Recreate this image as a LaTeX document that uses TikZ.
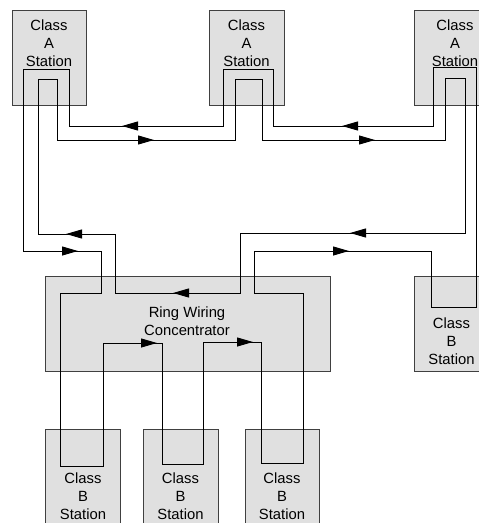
\documentclass[tikz,border=0pt]{standalone}
\usepackage{fontspec}
\setmainfont{Liberation Sans}
\usetikzlibrary{arrows.meta}
\definecolor{boxfill}{HTML}{E0E0E0}
\definecolor{boxline}{HTML}{404040}
\tikzset{
  stbox/.style={draw=boxline, fill=boxfill, line width=1pt, inner sep=0pt, anchor=north west},
  lbl/.style={align=center, inner sep=0pt, font=\fontsize{14.8}{18}\selectfont},
  wire/.style={draw=black, line width=1pt, line join=miter},
  arr/.style={-{Triangle[length=16pt,width=9pt]}, line width=1pt}
}
\begin{document}
\begin{tikzpicture}[x=1pt,y=-1pt]
\useasboundingbox (0,0) rectangle (479,523);
\clip (0,0) rectangle (479,523);
% boxes
\node[stbox, minimum width=74pt, minimum height=95pt] (a1) at (12,10) {};
\node[stbox, minimum width=75pt, minimum height=95pt] (a2) at (209,10) {};
\node[stbox, minimum width=82pt, minimum height=95pt] (a3) at (414,10) {};
\node[stbox, minimum width=285pt, minimum height=95pt] (rc) at (45,276) {};
\node[stbox, minimum width=76pt, minimum height=95pt] (b4) at (414,276) {};
\node[stbox, minimum width=75pt, minimum height=110pt] (b1) at (45,429) {};
\node[stbox, minimum width=75pt, minimum height=110pt] (b2) at (143,429) {};
\node[stbox, minimum width=74pt, minimum height=110pt] (b3) at (245,429) {};
% labels
\node[lbl] (a1t) at (49,43) {Class\\A\\Station};
\node[lbl] (a2t) at (246.5,43) {Class\\A\\Station};
\node[lbl] (a3t) at (455,43) {Class\\A\\Station};
\node[lbl] (rct) at (187,321.5) {Ring Wiring\\Concentrator};
\node[lbl] (b4t) at (451.5,341.5) {Class\\B\\Station};
\node[lbl] (b1t) at (83,496) {Class\\B\\Station};
\node[lbl] (b2t) at (180.5,496) {Class\\B\\Station};
\node[lbl] (b3t) at (282,496) {Class\\B\\Station};
% inner ring
\draw[wire] (38,234) -- (38,79) -- (57,79) -- (57,140) -- (235,140) -- (235,79)
  -- (262,79) -- (262,140) -- (445,140) -- (445,78) -- (465,78) -- (465,233)
  -- (240,233) -- (240,293) -- (115,293) -- (115,234) -- cycle;
% outer ring
\draw[wire] (23,69) -- (69,69) -- (69,126) -- (223,126) -- (223,69) -- (273,69)
  -- (273,126) -- (433,126) -- (433,67) -- (476,67) -- (476,307) -- (431,307)
  -- (431,251) -- (254,251) -- (254,293) -- (303,293) -- (303,463) -- (261,463)
  -- (261,342) -- (203,342) -- (203,464) -- (162,464) -- (162,343) -- (103,343)
  -- (103,466) -- (60,466) -- (60,293) -- (101,293) -- (101,251) -- (23,251) -- cycle;
% arrowheads
\draw[arr] (138,126) -- (122,126);
\draw[arr] (138,140) -- (154,140);
\draw[arr] (358,126) -- (342,126);
\draw[arr] (358,140) -- (375,140);
\draw[arr] (82,234) -- (66,234);
\draw[arr] (62,251) -- (78,251);
\draw[arr] (189,293) -- (173,293);
\draw[arr] (366,233) -- (350,233);
\draw[arr] (333,251) -- (349,251);
\draw[arr] (140,343) -- (157,343);
\draw[arr] (236,342) -- (253,342);
\end{tikzpicture}
\end{document}
